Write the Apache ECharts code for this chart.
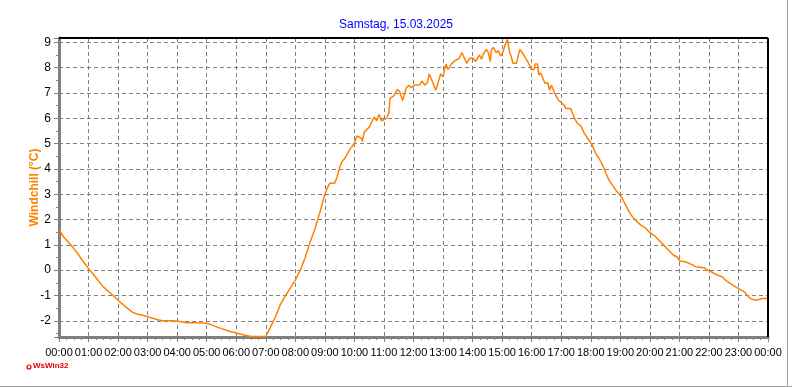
<!DOCTYPE html>
<html>
<head>
<meta charset="utf-8">
<script src="https://cdn.jsdelivr.net/npm/echarts@6/dist/echarts.min.js"></script>
<style>html,body{margin:0;padding:0;background:#fff}#c{width:792px;height:387px}</style>
</head>
<body>
<div id="c"></div>
<script>
var chartTitle = 'Samstag, 15.03.2025';
var axisName = 'Windchill (°C)';
var times = ['00:00','00:10','00:20','00:30','00:40','00:50','01:00','01:10','01:20','01:30','01:40','01:50','02:00','02:10','02:20','02:30','02:40','02:50','03:00','03:10','03:20','03:30','03:45','04:00','04:10','04:20','04:40','05:00','05:10','05:20','05:30','05:40','05:50','06:00','06:10','06:20','06:30','07:00','07:10','07:20','07:30','07:40','07:50','08:00','08:10','08:20','08:30','08:40','08:50','09:00','09:05','09:10','09:20','09:25','09:30','09:35','09:40','09:50','10:00','10:05','10:15','10:16','10:20','10:30','10:40','10:45','10:50','10:55','11:05','11:10','11:12','11:20','11:27','11:32','11:38','11:45','11:50','11:55','12:03','12:12','12:17','12:23','12:28','12:32','12:36','12:40','12:45','12:50','12:55','13:00','13:03','13:06','13:10','13:14','13:18','13:24','13:33','13:38','13:42','13:48','13:54','14:01','14:06','14:10','14:14','14:18','14:22','14:28','14:32','14:36','14:38','14:42','14:48','14:52','14:57','15:02','15:07','15:11','15:15','15:18','15:22','15:29','15:32','15:36','15:42','15:46','15:49','15:54','15:59','16:05','16:07','16:12','16:14','16:18','16:22','16:27','16:33','16:36','16:40','16:47','16:54','17:06','17:09','17:19','17:27','17:33','17:40','17:47','17:54','18:03','18:10','18:17','18:24','18:31','18:37','18:44','18:51','18:58','19:04','19:11','19:18','19:25','19:34','19:42','19:52','20:00','20:10','20:20','20:30','20:38','20:48','20:55','21:01','21:12','21:16','21:28','21:33','21:50','21:57','22:05','22:18','22:27','22:34','22:44','22:54','22:58','23:03','23:12','23:18','23:24','23:34','23:41','23:48','24:00'];
var windchill = [1.6,1.3,1.08,0.86,0.6,0.32,0.06,-0.17,-0.42,-0.66,-0.84,-1.0,-1.19,-1.36,-1.52,-1.67,-1.74,-1.78,-1.84,-1.9,-1.96,-2.0,-2.0,-2.01,-2.05,-2.08,-2.08,-2.1,-2.16,-2.24,-2.31,-2.37,-2.43,-2.48,-2.53,-2.58,-2.62,-2.62,-2.23,-1.82,-1.34,-1.0,-0.7,-0.4,0.0,0.5,1.1,1.65,2.3,3.0,3.25,3.43,3.43,3.7,4.05,4.3,4.4,4.75,5.0,5.3,5.2,5.07,5.45,5.65,6.05,5.9,6.15,5.9,6.0,6.2,6.78,6.88,7.14,7.05,6.7,7.18,7.3,7.22,7.31,7.31,7.47,7.31,7.4,7.75,7.7,7.37,7.11,7.4,7.75,7.64,7.93,8.14,7.93,7.97,8.17,8.27,8.37,8.59,8.43,8.17,8.37,8.37,8.24,8.37,8.5,8.33,8.54,8.72,8.59,8.24,8.7,8.8,8.59,8.67,8.46,8.63,8.96,9.12,8.63,8.46,8.17,8.17,8.24,8.72,8.56,8.59,8.33,8.17,7.93,7.93,8.14,8.14,7.71,7.8,7.77,7.38,7.4,7.11,7.31,6.98,6.72,6.52,6.39,6.39,6.0,5.8,5.7,5.4,5.2,4.94,4.61,4.41,4.15,3.82,3.56,3.36,3.16,3.0,2.83,2.57,2.3,2.1,1.91,1.78,1.65,1.48,1.35,1.15,0.95,0.79,0.59,0.53,0.36,0.33,0.26,0.2,0.13,0.1,0.0,-0.07,-0.2,-0.26,-0.4,-0.53,-0.66,-0.59,-0.76,-0.86,-1.0,-1.12,-1.19,-1.16,-1.12,-1.12];

function toHours(s){var p=s.split(':');return +p[0]+(+p[1])/60;}
var seriesData = times.map(function(t,i){return [toHours(t), windchill[i]];});

var chart = echarts.init(document.getElementById('c'), null, {renderer:'canvas'});
var font = 'Arial, "Liberation Sans", sans-serif';
chart.setOption({
  animation:false,
  backgroundColor:'#fff',
  title:{text:chartTitle,left:'center',top:14,textStyle:{color:'#0000ff',fontSize:12,fontWeight:'normal',fontFamily:font}},
  grid:{left:59,right:24,top:38,bottom:50,containLabel:false,show:false},
  xAxis:{type:'value',min:0,max:24,interval:1,
    axisLine:{show:true,onZero:false,lineStyle:{color:'#808080',width:3}},
    axisTick:{show:true,length:5,lineStyle:{color:'#808080',width:1}},
    minorTick:{show:true,splitNumber:4,length:3,lineStyle:{color:'#808080'}},
    axisLabel:{color:'#000',fontSize:11,fontFamily:font,margin:10,hideOverlap:false,showMinLabel:true,showMaxLabel:true,
      formatter:function(v){var h=Math.round(v)%24;return (h<10?'0':'')+h+':00';}},
    splitLine:{show:true,lineStyle:{color:'#808080',type:[4,3],width:1}}
  },
  yAxis:{type:'value',min:-2.64,max:9.17,minInterval:1,maxInterval:1,splitNumber:12,
    name:axisName,nameLocation:'middle',nameRotate:90,nameGap:18,nameMoveOverlap:false,
    nameTextStyle:{color:'#ff8000',fontSize:12,fontWeight:'bold',fontFamily:font},
    axisLine:{show:true,lineStyle:{color:'#808080',width:3}},
    axisTick:{show:true,length:5,lineStyle:{color:'#808080',width:1}},
    minorTick:{show:true,splitNumber:2,length:3,lineStyle:{color:'#808080'}},
    axisLabel:{color:'#000',fontSize:12,fontFamily:font,margin:8,showMinLabel:false,showMaxLabel:false},
    splitLine:{show:true,lineStyle:{color:'#808080',type:[4,3],width:1}}
  },
  graphic:[
    {type:'line',shape:{x1:59,y1:38,x2:768,y2:38},style:{stroke:'#000',lineWidth:2},z:10},
    {type:'line',shape:{x1:768,y1:38,x2:768,y2:337},style:{stroke:'#000',lineWidth:2},z:10},
    {type:'line',shape:{x1:0,y1:386.5,x2:792,y2:386.5},style:{stroke:'#a0a0a0',lineWidth:1}},
    {type:'line',shape:{x1:787.5,y1:0,x2:787.5,y2:387},style:{stroke:'#a0a0a0',lineWidth:1}},
    {type:'circle',shape:{cx:29,cy:367,r:2},style:{fill:'none',stroke:'#e00000',lineWidth:1.2}},
    {type:'text',left:33,top:362,style:{text:'WsWin32',fill:'#e00000',font:'bold 8px '+font}}
  ],
  series:[{type:'line',data:seriesData,showSymbol:false,symbol:'none',
    lineStyle:{color:'#ff8000',width:1.5},itemStyle:{color:'#ff8000'},clip:true}]
});
</script>
</body>
</html>
